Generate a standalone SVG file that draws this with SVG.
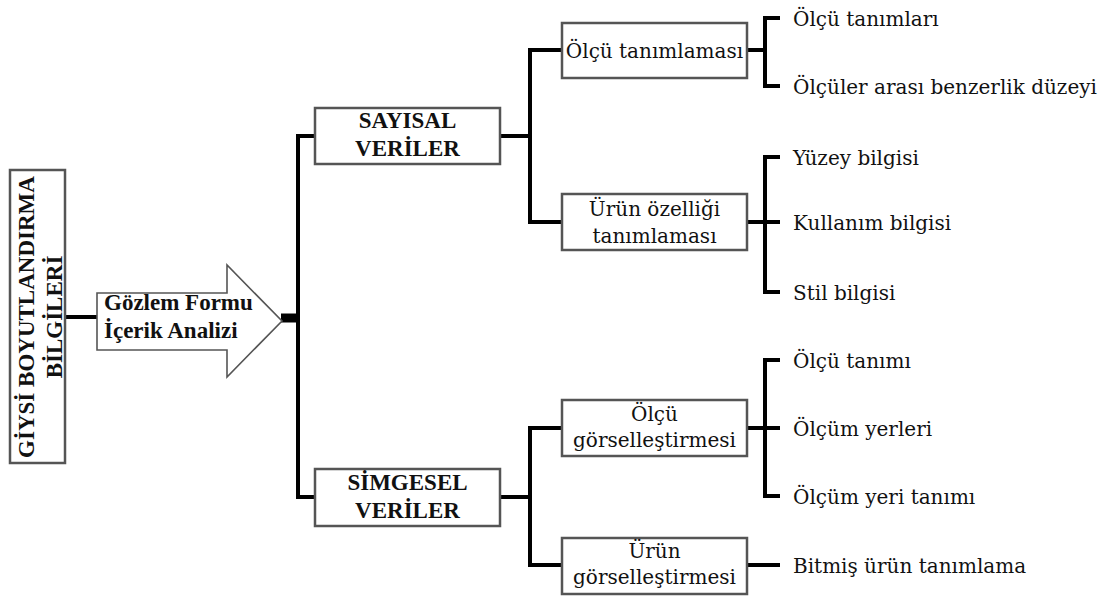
<svg xmlns="http://www.w3.org/2000/svg" width="1098" height="598" viewBox="0 0 1098 598">
<style>
.box{fill:#fff;stroke:#555;stroke-width:2.5}
.arrow{fill:#fff;stroke:#555;stroke-width:1.6}
.ln{fill:none;stroke:#000;stroke-width:4;stroke-linejoin:miter;stroke-linecap:butt}
.b{font-family:"Liberation Serif","DejaVu Serif",serif;font-weight:bold;font-size:23px;fill:#111}
.r{font-family:"DejaVu Serif","Liberation Serif",serif;font-size:20px;fill:#111}
.c{text-anchor:middle}
</style>
<rect width="1098" height="598" fill="#fff"/>
<g id="connectors">
<path class="ln" d="M65,317 H97"/>
<path class="ln" d="M281,318 H298" style="stroke-width:9"/>
<path class="ln" d="M315,136 H298 V497 H315"/>
<path class="ln" d="M500,136 H530 M562,50 H530 V222 H562"/>
<path class="ln" d="M500,497 H530 M562,428 H530 V565 H562"/>
<path class="ln" d="M747,50 H765 M780,18 H765 V86 H780"/>
<path class="ln" d="M747,222 H780 M780,157 H765 V292 H780"/>
<path class="ln" d="M747,428 H780 M780,360 H765 V496 H780"/>
<path class="ln" d="M747,565 H780"/>
</g>
<g id="root">
<rect class="box" x="10" y="170" width="55" height="293"/>
<text class="b c" transform="translate(34,317) rotate(-90)">GİYSİ BOYUTLANDIRMA</text>
<text class="b c" transform="translate(62,317) rotate(-90)">BİLGİLERİ</text>
</g>
<g id="analysis">
<path class="arrow" d="M97,293 H227 V265 L282,321 L227,377 V350 H97 Z"/>
<text class="b" x="104" y="310">Gözlem Formu</text>
<text class="b" x="104" y="338">İçerik Analizi</text>
</g>
<g id="sayisal">
<rect class="box" x="315" y="108" width="185" height="56"/>
<text class="b c" x="407.5" y="128">SAYISAL</text>
<text class="b c" x="407.5" y="156">VERİLER</text>
</g>
<g id="simgesel">
<rect class="box" x="315" y="469" width="185" height="57"/>
<text class="b c" x="407.5" y="490">SİMGESEL</text>
<text class="b c" x="407.5" y="518">VERİLER</text>
</g>
<g id="olcu-tanimlamasi">
<rect class="box" x="562" y="23" width="185" height="55"/>
<text class="r c" x="654.5" y="58">Ölçü tanımlaması</text>
</g>
<g id="urun-ozelligi">
<rect class="box" x="562" y="194" width="185" height="56"/>
<text class="r c" x="654.5" y="216">Ürün özelliği</text>
<text class="r c" x="654.5" y="243">tanımlaması</text>
</g>
<g id="olcu-gorsel">
<rect class="box" x="562" y="400" width="185" height="56"/>
<text class="r c" x="654.5" y="421">Ölçü</text>
<text class="r c" x="654.5" y="447">görselleştirmesi</text>
</g>
<g id="urun-gorsel">
<rect class="box" x="562" y="538" width="185" height="56"/>
<text class="r c" x="654.5" y="558">Ürün</text>
<text class="r c" x="654.5" y="584">görselleştirmesi</text>
</g>
<g id="leaves">
<text class="r" x="793" y="26">Ölçü tanımları</text>
<text class="r" x="793" y="94">Ölçüler arası benzerlik düzeyi</text>
<text class="r" x="793" y="165">Yüzey bilgisi</text>
<text class="r" x="793" y="230">Kullanım bilgisi</text>
<text class="r" x="793" y="300">Stil bilgisi</text>
<text class="r" x="793" y="368">Ölçü tanımı</text>
<text class="r" x="793" y="436">Ölçüm yerleri</text>
<text class="r" x="793" y="504">Ölçüm yeri tanımı</text>
<text class="r" x="793" y="573">Bitmiş ürün tanımlama</text>
</g>
</svg>
